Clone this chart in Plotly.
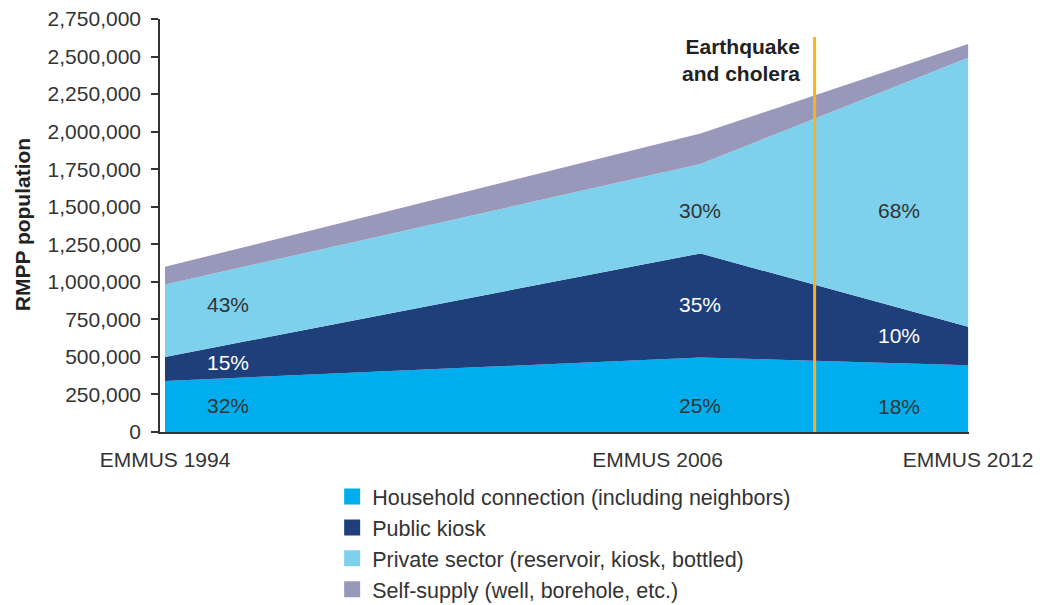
import plotly.graph_objects as go

# ---- data ----
years = [1994, 2006, 2012]
tick_labels = ["EMMUS 1994", "EMMUS 2006", "EMMUS 2012"]
series_names = [
    "Household connection (including neighbors)",
    "Public kiosk",
    "Private sector (reservoir, kiosk, bottled)",
    "Self-supply (well, borehole, etc.)",
]
household = [340000, 496000, 444000]
public_kiosk = [160000, 693000, 256000]
private_sector = [482000, 595000, 1792000]
self_supply = [118000, 204000, 91000]

pct_household = ["32%", "25%", "18%"]
pct_kiosk = ["15%", "35%", "10%"]
pct_private = ["43%", "30%", "68%"]

earthquake_year = 2008.56
y_ticks = list(range(0, 2750001, 250000))

colors = ["#00AEEF", "#1F3F7A", "#7DD1EC", "#9899BA"]
values = [household, public_kiosk, private_sector, self_supply]

FONT = "Liberation Sans, Arial, sans-serif"
TXT = "#333333"
FS = 21

fig = go.Figure()
for name, vals, col in zip(series_names, values, colors):
    fig.add_trace(go.Scatter(
        x=years, y=vals, stackgroup="one", mode="lines",
        line=dict(width=0, color=col), fillcolor=col,
        showlegend=False, hoverinfo="skip", name=name,
    ))
# legend entries (square swatches)
for i, (name, col) in enumerate(zip(series_names, colors)):
    fig.add_trace(go.Scatter(
        x=[None], y=[None], mode="markers", name=name, legendgroup=f"g{i}",
        marker=dict(symbol="square", size=16, color=col),
        showlegend=True,
    ))

# percentage labels
label_x = [1995.41, 2006.0, 2010.46]
lab_y_house = [178000, 178000, 167000]
lab_y_kiosk = [466000, 851000, 644000]
lab_y_priv = [851000, 1477000, 1477000]
for i in range(3):
    fig.add_annotation(x=label_x[i], y=lab_y_house[i], text=pct_household[i], showarrow=False,
                       font=dict(size=FS, color=TXT, family=FONT))
    fig.add_annotation(x=label_x[i], y=lab_y_kiosk[i], text=pct_kiosk[i], showarrow=False,
                       font=dict(size=FS, color="white", family=FONT))
    fig.add_annotation(x=label_x[i], y=lab_y_priv[i], text=pct_private[i], showarrow=False,
                       font=dict(size=FS, color=TXT, family=FONT))

# earthquake line + text
fig.add_shape(type="line", xref="x", yref="y", x0=earthquake_year, x1=earthquake_year,
              y0=0, y1=2630000, line=dict(color="#F9B122", width=3))
fig.add_annotation(x=2008.28, xref="x", y=0.966, yref="paper", xanchor="right", yanchor="top",
                   text="<b>Earthquake<br>and cholera</b>", showarrow=False, align="right",
                   font=dict(size=FS, color="#222222", family=FONT))

# y title
fig.add_annotation(xref="paper", yref="paper", x=-0.1706, y=0.503, text="<b>RMPP population</b>",
                   textangle=-90, showarrow=False, xanchor="center", yanchor="middle",
                   font=dict(size=FS, color="#222222", family=FONT))

fig.update_layout(
    width=1042, height=597,
    margin=dict(l=152, r=81, t=11, b=173, autoexpand=False),
    paper_bgcolor="white", plot_bgcolor="white",
    font=dict(family=FONT, size=FS, color=TXT),
    legend=dict(x=0.2128, y=0.2161, xanchor="left", yanchor="top", yref="container",
                font=dict(size=21.5, color=TXT, family=FONT), traceorder="normal",
                bgcolor="rgba(0,0,0,0)", itemwidth=30, tracegroupgap=2),
    showlegend=True,
)
fig.update_xaxes(
    range=[1993.888, 2012.02], showgrid=False, zeroline=False, automargin=False,
    showline=True, linecolor="#333333", linewidth=1.5,
    tickvals=[1994, 2005.04, 2012], ticktext=tick_labels,
    ticks="outside", ticklen=8, tickcolor="rgba(0,0,0,0)",
    ticklabeloverflow="allow",
    tickfont=dict(size=FS, color=TXT, family=FONT),
)
fig.update_yaxes(
    range=[0, 2750000], showgrid=False, zeroline=False, automargin=False,
    showline=True, linecolor="#333333", linewidth=1.5,
    tickvals=y_ticks, tickformat=",d",
    ticks="outside", ticklen=7, tickcolor="#333333", tickwidth=1.5,
    ticklabelstandoff=6, ticklabeloverflow="allow",
    tickfont=dict(size=FS, color=TXT, family=FONT),
)

fig.write_html("out.html")
